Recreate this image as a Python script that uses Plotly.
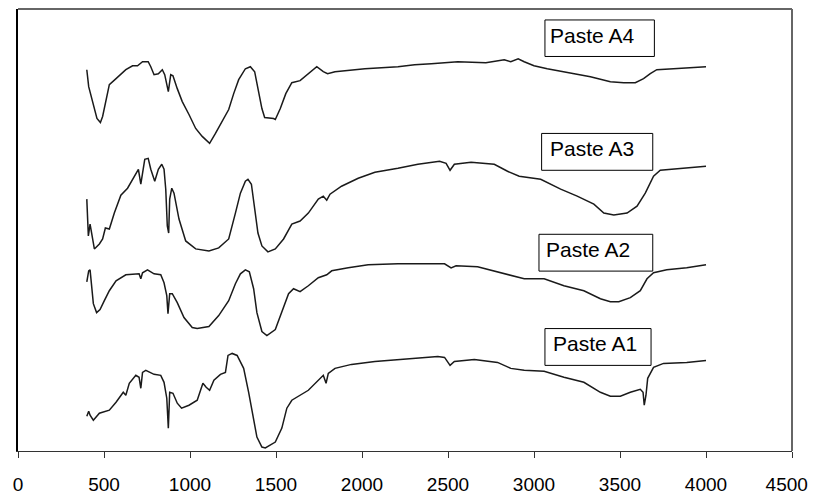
import plotly.graph_objects as go

# Wavenumber (cm^-1) and relative transmittance (arbitrary, offset units)
a4_x = [400, 411, 459, 479, 492, 515, 531, 570, 627, 666, 695, 724, 757, 772, 791, 816, 839, 853, 868, 874,
        888, 901, 926, 955, 994, 1033, 1071, 1114, 1148, 1187, 1225, 1254, 1283, 1322, 1351, 1376, 1395, 1418,
        1434, 1486, 1496, 1525, 1557, 1592, 1640, 1688, 1737, 1775, 1800, 1843, 2017, 2209, 2306, 2403, 2557,
        2720, 2827, 2865, 2908, 2943, 3000, 3077, 3212, 3328, 3444, 3522, 3589, 3637, 3676, 3714, 3811, 4000]
a4_y = [383, 366, 334, 330, 336, 356, 368, 374, 383, 387, 387, 391, 391, 386, 378, 379, 383, 378, 365, 361,
        378, 377, 364, 351, 338, 324, 316, 309, 319, 331, 343, 359, 373, 384, 386, 381, 363, 344,
        335, 334, 333, 344, 359, 370, 372, 379, 386, 381, 379, 381, 384, 386, 388, 389, 391,
        390, 393, 391, 394, 391, 387, 384, 380, 376, 371, 370, 370, 374, 379, 383, 384, 386]

a3_x = [400, 409, 419, 428, 444, 473, 492, 508, 531, 560, 598, 637, 675, 700, 714, 724, 737, 757, 772, 795,
        816, 836, 849, 859, 868, 876, 882, 894, 907, 936, 975, 1033, 1110, 1167, 1225, 1264, 1293, 1322, 1337,
        1357, 1376, 1395, 1418, 1453, 1496, 1544, 1592, 1640, 1688, 1746, 1775, 1795, 1814, 1881, 1978, 2075,
        2209, 2325, 2451, 2489, 2512, 2537, 2634, 2769, 2846, 2914, 3039, 3155, 3251, 3348, 3406, 3464, 3541,
        3599, 3647, 3695, 3734, 3850, 4000]
a3_y = [253, 216, 228, 219, 203, 208, 213, 224, 223, 239, 257, 264, 276, 283, 268, 279, 293, 294, 283, 271,
        283, 288, 283, 263, 226, 219, 253, 264, 259, 233, 211, 203, 201, 204, 213, 239, 259, 271, 273,
        268, 246, 219, 206, 200, 203, 213, 228, 231, 239, 253, 256, 252, 258, 266, 274, 280,
        284, 288, 291, 289, 282, 288, 290, 288, 281, 276, 273, 263, 256, 248, 239, 237, 239,
        246, 259, 276, 282, 284, 286]

a2_x = [400, 411, 419, 425, 438, 457, 477, 502, 531, 570, 627, 704, 714, 724, 753, 791, 830, 849, 865, 872,
        882, 897, 926, 965, 1013, 1042, 1110, 1167, 1225, 1264, 1293, 1322, 1345, 1370, 1389, 1418, 1447, 1496,
        1534, 1573, 1602, 1640, 1688, 1746, 1795, 1824, 1920, 2036, 2209, 2480, 2518, 2547, 2672, 2788, 2875,
        2943, 3059, 3174, 3290, 3386, 3444, 3493, 3560, 3618, 3657, 3695, 3772, 3888, 4000]
a2_y = [170, 181, 182, 169, 148, 139, 142, 151, 161, 171, 177, 178, 173, 179, 182, 178, 177, 169, 156, 138,
        158, 158, 149, 134, 124, 123, 125, 136, 151, 168, 178, 182, 180, 163, 139, 120, 116, 122,
        139, 158, 163, 160, 166, 174, 177, 181, 184, 187, 188, 188, 184, 186, 185, 180, 176,
        173, 173, 166, 161, 153, 150, 150, 154, 161, 173, 179, 182, 184, 187]

a1_x = [400, 411, 419, 438, 473, 531, 570, 612, 627, 647, 685, 704, 714, 724, 743, 791, 830, 849, 865, 874,
        882, 901, 926, 951, 994, 1042, 1075, 1094, 1114, 1139, 1177, 1206, 1221, 1245, 1274, 1312, 1341, 1370,
        1389, 1418, 1438, 1496, 1534, 1563, 1592, 1688, 1775, 1791, 1804, 1843, 1939, 2075, 2209, 2441, 2480,
        2512, 2537, 2653, 2788, 2865, 2943, 3059, 3174, 3290, 3386, 3444, 3502, 3560, 3618, 3634, 3641, 3651,
        3661, 3695, 3753, 3888, 4000]
a1_y = [35, 40, 36, 31, 38, 41, 49, 59, 56, 68, 76, 74, 63, 79, 81, 77, 76, 69, 53, 23,
        59, 58, 48, 43, 46, 51, 68, 64, 61, 71, 77, 79, 96, 98, 96, 83, 59, 33,
        14, 4, 3, 9, 23, 43, 51, 61, 76, 68, 78, 83, 87, 90, 92, 95, 94,
        86, 90, 92, 89, 83, 81, 80, 74, 69, 59, 55, 55, 59, 62, 59, 46, 56,
        73, 84, 88, 89, 91]

series_names = ["Paste A4", "Paste A3", "Paste A2", "Paste A1"]
x_ticks = [0, 500, 1000, 1500, 2000, 2500, 3000, 3500, 4000, 4500]
x_tick_labels = ["0", "500", "1000", "1500", "2000", "2500", "3000", "3500", "4000", "4500\u00a0\u00a0"]

fig = go.Figure()
for name, xs, ys in zip(series_names, [a4_x, a3_x, a2_x, a1_x], [a4_y, a3_y, a2_y, a1_y]):
    fig.add_trace(go.Scatter(x=xs, y=ys, mode="lines", name=name,
                             line=dict(color="#1a1a1a", width=1.5), showlegend=False))

FONT = "Arial"

# label boxes (paper coordinates): x0, x1, y0, y1, text x, text y
boxes = [
    (0.6808, 0.8222, 0.8926, 0.9752, 0.6851, 0.9408),
    (0.6765, 0.8201, 0.6351, 0.7185, 0.6847, 0.6840),
    (0.6731, 0.8201, 0.4070, 0.4903, 0.6796, 0.4560),
    (0.6808, 0.8179, 0.1937, 0.2770, 0.6881, 0.2426),
]
shapes = []
annotations = []
for name, (x0, x1, y0, y1, tx, ty) in zip(series_names, boxes):
    shapes.append(dict(type="rect", xref="paper", yref="paper", x0=x0, x1=x1, y0=y0, y1=y1,
                       line=dict(color="black", width=1), fillcolor="white", layer="above"))
    annotations.append(dict(text=name, xref="paper", yref="paper", x=tx, y=ty, xanchor="left",
                            yanchor="middle", showarrow=False,
                            font=dict(family=FONT, size=21, color="black")))

# top and right frame lines (grey)
shapes.append(dict(type="line", xref="paper", yref="paper", x0=0, x1=1, y0=1, y1=1,
                   line=dict(color="#666666", width=2)))
shapes.append(dict(type="line", xref="paper", yref="paper", x0=1, x1=1, y0=0, y1=1,
                   line=dict(color="#666666", width=2)))

# page body has an 8px default margin; size the figure so it fits the 819x496 window
fig.update_layout(
    width=811, height=488,
    margin=dict(l=10, r=23, t=1, b=43),
    paper_bgcolor="white", plot_bgcolor="white",
    shapes=shapes, annotations=annotations,
    xaxis=dict(range=[0, 4500], tickvals=x_ticks, ticktext=x_tick_labels,
               ticks="outside", ticklen=6, tickcolor="#333333", tickwidth=1.3,
               showline=True, linecolor="#333333", linewidth=1.3, showgrid=False, zeroline=False,
               tickfont=dict(family=FONT, size=19, color="black"), ticklabelstandoff=10,
               ticklabeloverflow="allow"),
    yaxis=dict(range=[0, 444], showticklabels=False, ticks="", showgrid=False, zeroline=False,
               showline=True, linecolor="black", linewidth=1.5),
)

fig.write_html("out.html")
